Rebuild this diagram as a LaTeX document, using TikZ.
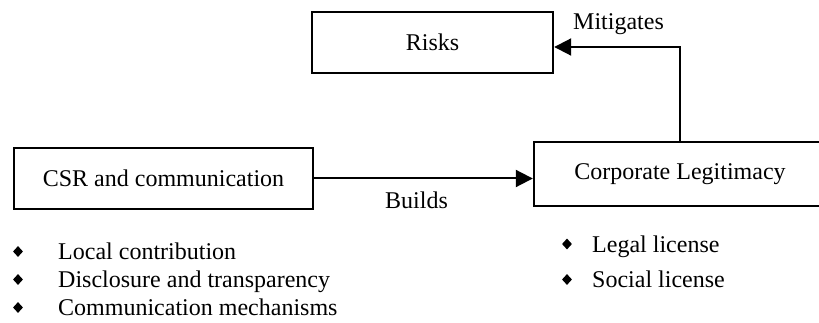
\documentclass[tikz,border=0pt]{standalone}
\usepackage{fontspec}
\setmainfont{Liberation Serif}
\usetikzlibrary{arrows.meta,shapes.geometric}

\begin{document}
\begin{tikzpicture}[
            x=1pt, y=-1pt,
            box/.style={rectangle, draw, line width=2.4pt, inner sep=0pt},
            bullet/.style={diamond, fill=black, inner sep=0pt, minimum width=10pt, minimum height=11pt},
            item/.style={anchor=base west, inner sep=0pt},
            link/.style={line width=2pt, -{Triangle[length=17pt,width=17pt]}},
            every node/.style={font=\fontsize{24}{28}\selectfont}
    ]
        \useasboundingbox (0,0) rectangle (819,323);

        % Boxes
        \node[box, minimum width=241pt, minimum height=61pt] (risks) at (432.5,42.5) {Risks};
        \node[box, minimum width=299pt, minimum height=61pt] (csr) at (163.5,178.5) {CSR and communication};
        \node[box, minimum width=292pt, minimum height=64pt] (legit) at (680,174) {Corporate Legitimacy};

        % Arrows
        \draw[link] (csr.east) -- (csr.east -| legit.west);
        \draw[link] (legit.north) |- ([yshift=-4.5pt]risks.east);

        % Arrow labels
        \node[item] (builds) at (385,208) {Builds};
        \node[item] (mitigates) at (573,30) {Mitigates};

        % CSR items
        \node[bullet] (b1) at (18,251.5) {};
        \node[item] (local) at (58,259) {Local contribution};
        \node[bullet] (b2) at (18,279.5) {};
        \node[item] (disclosure) at (58,287) {Disclosure and transparency};
        \node[bullet] (b3) at (18,307.5) {};
        \node[item] (mechanisms) at (58,315) {Communication mechanisms};

        % Legitimacy items
        \node[bullet] (b4) at (567,244) {};
        \node[item] (legal) at (592,252) {Legal license};
        \node[bullet] (b5) at (567,279.5) {};
        \node[item] (social) at (592,287) {Social license};

    \end{tikzpicture}
\end{document}
